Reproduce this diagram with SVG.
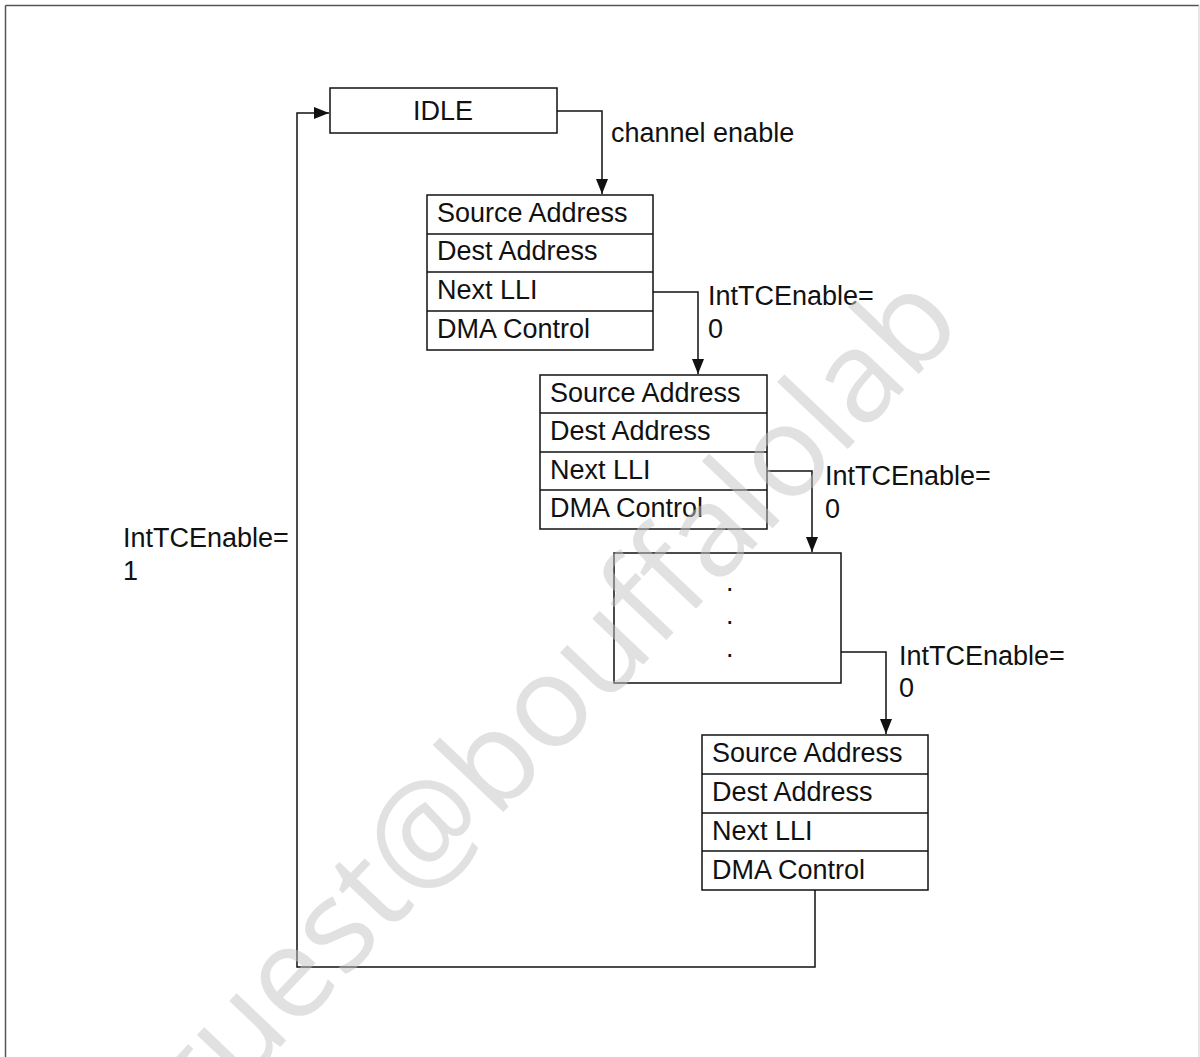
<svg xmlns="http://www.w3.org/2000/svg" width="1200" height="1057" viewBox="0 0 1200 1057">
<style>
  text { font-family: "Liberation Sans", Arial, sans-serif; font-size: 27px; fill: #111; }
  .box { fill: #fff; stroke: #111; stroke-width: 1.5; }
  .div { stroke: #111; stroke-width: 1.5; }
  .conn { fill: none; stroke: #111; stroke-width: 1.5; }
  .wm { font-family: "Open Sans", "Liberation Sans", sans-serif; font-size: 128px; fill: #c4c4c4; opacity: 0.5; }
</style>
<defs>
  <marker id="arr" markerWidth="16" markerHeight="14" refX="15" refY="6" orient="auto" markerUnits="userSpaceOnUse">
    <path d="M0,0 L15,6 L0,12 Z" fill="#111"/>
  </marker>
</defs>
<rect width="1200" height="1057" fill="#fff"/>
<g id="frame">
  <line x1="5.5" y1="5.5" x2="5.5" y2="1057" stroke="#555" stroke-width="1.5"/>
  <line x1="5.5" y1="5.5" x2="1199" y2="5.5" stroke="#555" stroke-width="1.5"/>
  <line x1="1199" y1="5.5" x2="1199" y2="1057" stroke="#ddd" stroke-width="1.5"/>
</g>
<g id="connectors">
  <path class="conn" d="M557,111 H602 V194" marker-end="url(#arr)"/>
  <path class="conn" d="M653,292 H698 V374" marker-end="url(#arr)"/>
  <path class="conn" d="M767,471 H812 V552" marker-end="url(#arr)"/>
  <path class="conn" d="M841,652 H886 V734" marker-end="url(#arr)"/>
  <path class="conn" d="M815,890 V967 H297 V113 H329" marker-end="url(#arr)"/>
</g>
<g id="idle">
  <rect class="box" x="330" y="88" width="227" height="45"/>
  <text x="443" y="120" text-anchor="middle">IDLE</text>
</g>
<g id="lli1">
  <rect class="box" x="427" y="195" width="226" height="155"/>
  <line class="div" x1="427" y1="234" x2="653" y2="234"/>
  <line class="div" x1="427" y1="272" x2="653" y2="272"/>
  <line class="div" x1="427" y1="311" x2="653" y2="311"/>
  <text x="437" y="222">Source Address</text>
  <text x="437" y="260">Dest Address</text>
  <text x="437" y="299">Next LLI</text>
  <text x="437" y="338">DMA Control</text>
</g>
<g id="lli2">
  <rect class="box" x="540" y="375" width="227" height="154"/>
  <line class="div" x1="540" y1="413" x2="767" y2="413"/>
  <line class="div" x1="540" y1="452" x2="767" y2="452"/>
  <line class="div" x1="540" y1="490" x2="767" y2="490"/>
  <text x="550" y="402">Source Address</text>
  <text x="550" y="440">Dest Address</text>
  <text x="550" y="479">Next LLI</text>
  <text x="550" y="517">DMA Control</text>
</g>
<g id="ellipsis">
  <rect class="box" x="614" y="553" width="227" height="130"/>
  <text x="726" y="591">.</text>
  <text x="726" y="624">.</text>
  <text x="726" y="657">.</text>
</g>
<g id="lli4">
  <rect class="box" x="702" y="735" width="226" height="155"/>
  <line class="div" x1="702" y1="774" x2="928" y2="774"/>
  <line class="div" x1="702" y1="813" x2="928" y2="813"/>
  <line class="div" x1="702" y1="851" x2="928" y2="851"/>
  <text x="712" y="762">Source Address</text>
  <text x="712" y="801">Dest Address</text>
  <text x="712" y="840">Next LLI</text>
  <text x="712" y="879">DMA Control</text>
</g>
<g id="labels">
  <text x="611" y="142">channel enable</text>
  <text x="708" y="305">IntTCEnable=</text>
  <text x="708" y="338">0</text>
  <text x="825" y="485">IntTCEnable=</text>
  <text x="825" y="518">0</text>
  <text x="899" y="665">IntTCEnable=</text>
  <text x="899" y="697">0</text>
  <text x="123" y="547">IntTCEnable=</text>
  <text x="123" y="580">1</text>
</g>
<g id="watermark">
  <text class="wm" x="192" y="1140" transform="rotate(-46.5 192 1140)">guest@bouffalolab</text>
</g>
</svg>
